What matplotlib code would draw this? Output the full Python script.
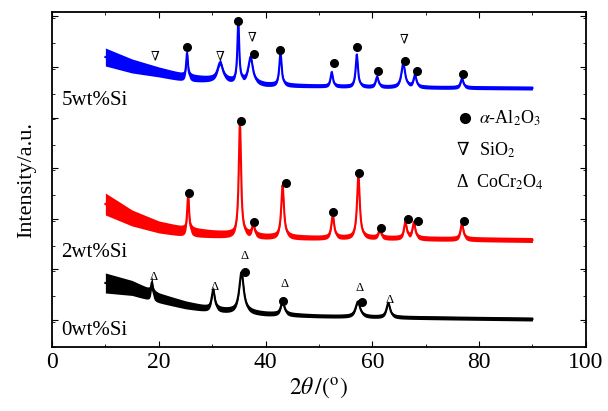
"""XRD patterns of coatings with 0, 2 and 5 wt% Si."""

import numpy as np
import matplotlib
matplotlib.rcParams['font.family'] = ['Liberation Serif', 'DejaVu Serif']
matplotlib.rcParams['mathtext.fontset'] = 'stix'
import matplotlib.pyplot as plt
from matplotlib.ticker import MultipleLocator

# background anchors (2theta) shared by all traces
BG_X = [10, 15, 20, 25, 30, 40, 50, 60, 90]

# 0wt%Si
bg_0 = [64, 59, 49, 42, 37, 33, 31, 30, 28]
band_0 = [20, 15, 10, 8, 6, 5, 4, 4, 4]
peaks_0 = [18.7, 30.2, 35.5, 43.2, 57.3, 63.0]
heights_0 = [13, 20, 40, 13, 15, 14]
widths_0 = [0.2, 0.35, 0.5, 0.4, 0.5, 0.4]

# 2wt%Si
bg_2 = [143, 129, 120, 115, 113, 110, 109, 109, 107]
band_2 = [22, 16, 12, 10, 8, 6, 5, 5, 5]
peaks_2 = [25.5, 35.2, 37.7, 43.2, 52.6, 57.4, 61.4, 66.2, 67.8, 76.8]
heights_2 = [39, 115, 11, 52, 23, 63, 8, 16, 16, 16]
widths_2 = [0.2, 0.25, 0.3, 0.3, 0.3, 0.3, 0.3, 0.3, 0.3, 0.3]

# 5wt%Si
bg_5 = [290, 281, 275, 269, 267, 262, 261, 260, 259]
band_5 = [18, 14, 10, 8, 6, 5, 4, 4, 4]
peaks_5 = [25.3, 31.5, 34.9, 37.2, 42.8, 52.4, 57.1, 60.9, 65.8, 68.0, 76.8]
heights_5 = [25, 18, 60, 26, 33, 14, 32, 10, 24, 12, 9]
widths_5 = [0.2, 0.6, 0.2, 0.5, 0.25, 0.25, 0.25, 0.3, 0.4, 0.3, 0.3]

# phase markers
al2o3_x = [25.3, 34.9, 37.8, 42.8, 52.8, 57.1, 61.1, 66.1, 68.4, 77.0,
           25.7, 35.5, 37.9, 43.8, 52.7, 57.5, 61.7, 66.6, 68.5, 77.2,
           36.1, 43.3, 58.0]
al2o3_y = [300, 326, 293, 297, 284, 300, 276, 286, 276, 273,
           154, 226, 125, 164, 135, 174, 119, 128, 126, 126,
           75, 46, 45]
sio2_x = [19.3, 31.5, 37.4, 66.0]
sio2_y = [290, 290, 309, 307]
cocr2o4_x = [19.0, 30.5, 36.1, 43.6, 57.7, 63.2]
cocr2o4_y = [70, 60, 91, 63, 59, 47]

labels = ['0wt%Si', '2wt%Si', '5wt%Si']
label_y = [17, 95, 247]


def pattern(x, bg, peaks, heights, widths):
    y = np.interp(x, BG_X, bg)
    for p, h, w in zip(peaks, heights, widths):
        y = y + h / (1 + ((x - p) / w) ** 2)
    return y


def main():
    fig = plt.figure(figsize=(6.08, 4.11), dpi=100)
    ax = fig.add_axes([0.0855, 0.1557, 0.878, 0.815])
    x = np.linspace(10, 90, 3201)

    traces = [(bg_0, band_0, peaks_0, heights_0, widths_0, 'black'),
              (bg_2, band_2, peaks_2, heights_2, widths_2, '#ff0000'),
              (bg_5, band_5, peaks_5, heights_5, widths_5, '#0000ff')]
    for bg, band, peaks, heights, widths, color in traces:
        y = pattern(x, bg, peaks, heights, widths)
        half = np.interp(x, BG_X, band) / 2
        ax.fill_between(x, y - half, y + half, color=color, lw=0)
        ax.plot(x, y, color=color, lw=1.5)

    ax.plot(al2o3_x, al2o3_y, 'o', color='black', ms=5.5, ls='none')
    for sx, sy in zip(sio2_x, sio2_y):
        ax.text(sx, sy, '∇', fontsize=9, ha='center', va='center')
    for cx, cy in zip(cocr2o4_x, cocr2o4_y):
        ax.text(cx, cy, 'Δ', fontsize=9, ha='center', va='center')

    for lab, ly in zip(labels, label_y):
        ax.text(1.8, ly, lab, fontsize=15, ha='left', va='center')

    # legend-like key
    ax.plot([77.3], [229], 'o', color='black', ms=7)
    ax.text(80.0, 229, r'$\alpha$-Al$_2$O$_3$', fontsize=13, va='center')
    ax.text(77.0, 197, '∇', fontsize=13, ha='center', va='center')
    ax.text(80.0, 197, r'SiO$_2$', fontsize=13, va='center')
    ax.text(76.8, 165, 'Δ', fontsize=13, ha='center', va='center')
    ax.text(79.4, 165, r'CoCr$_2$O$_4$', fontsize=13, va='center')

    ax.set_xlim(0, 100)
    ax.set_ylim(0, 335)
    ax.xaxis.set_major_locator(MultipleLocator(20))
    ax.xaxis.set_minor_locator(MultipleLocator(10))
    ax.set_yticks(np.arange(27, 335, 50.6))
    ax.yaxis.set_minor_locator(MultipleLocator(25.3))
    ax.set_yticklabels([])
    ax.tick_params(which='both', direction='in', top=True, right=True)
    ax.tick_params(which='major', length=4, labelsize=17)
    ax.tick_params(which='minor', length=2.5)
    for spine in ax.spines.values():
        spine.set_linewidth(1.3)

    ax.set_xlabel(r'$2\theta\,/(^{\rm o})$', fontsize=17, labelpad=2)
    ax.set_ylabel('Intensity/a.u.', fontsize=16, labelpad=8)

    fig.savefig('out.png', dpi=100)


if __name__ == '__main__':
    main()
